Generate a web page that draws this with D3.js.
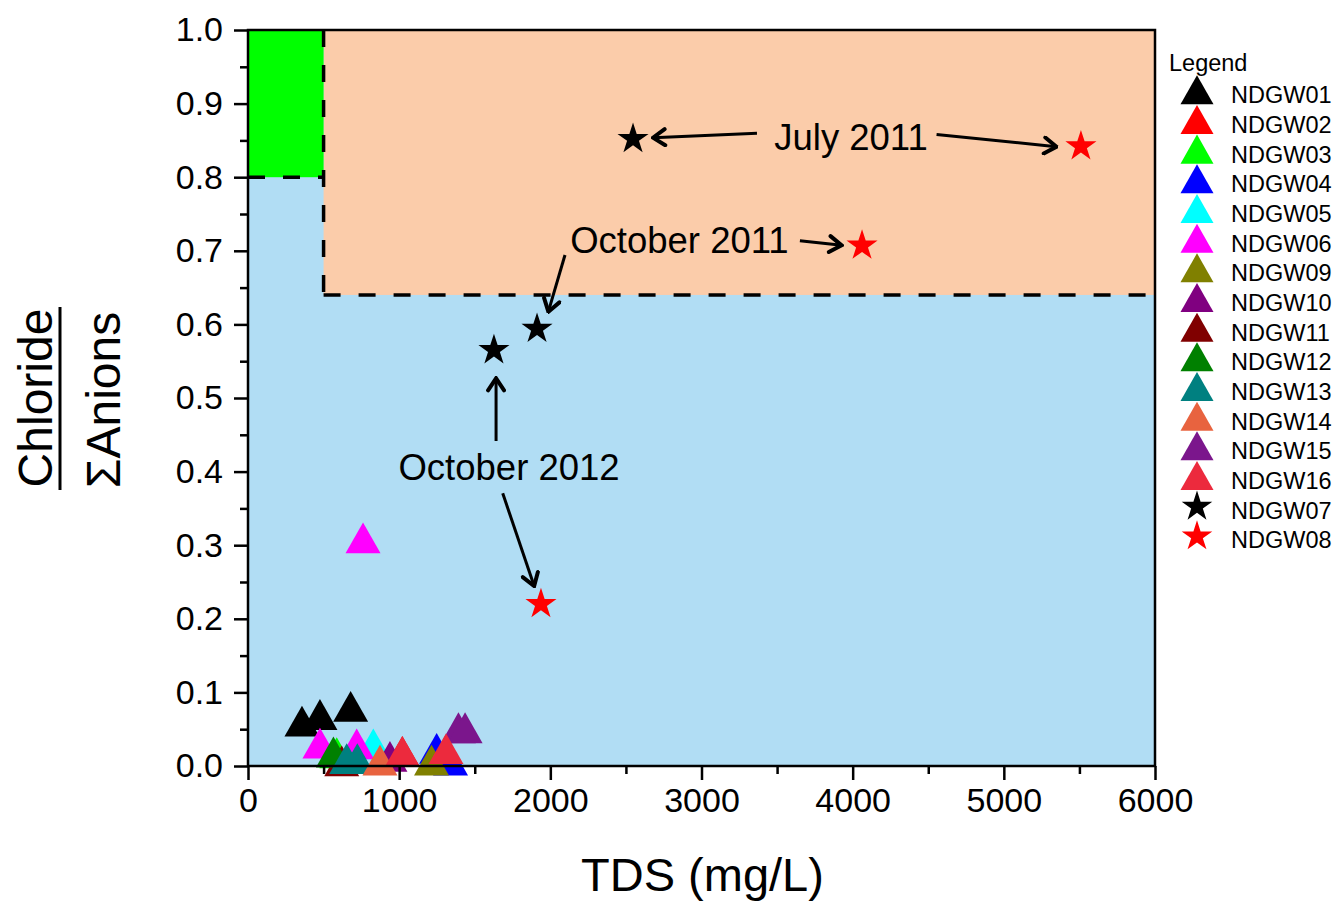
<!DOCTYPE html>
<html>
<head>
<meta charset="utf-8">
<script src="https://cdn.jsdelivr.net/npm/d3@7"></script>
<style>
  html, body { margin: 0; padding: 0; background: #fff; }
  svg { display: block; font-family: Arial, "Liberation Sans", sans-serif; }
</style>
</head>
<body>
<svg id="chart" width="1338" height="903"></svg>
<script>
// Well names in legend order
const wells = ["NDGW01","NDGW02","NDGW03","NDGW04","NDGW05","NDGW06","NDGW09","NDGW10",
               "NDGW11","NDGW12","NDGW13","NDGW14","NDGW15","NDGW16","NDGW07","NDGW08"];

// Samples per well: [TDS (mg/L), chloride / sum of anions]
const ndgw01 = [[357, 0.061], [476, 0.070], [679, 0.081]];
const ndgw02 = [[1021, 0.020]];
const ndgw03 = [[587, 0.018]];
const ndgw04 = [[1248, 0.024], [1340, 0.008]];
const ndgw05 = [[829, 0.030]];
const ndgw06 = [[476, 0.031], [719, 0.030], [761, 0.310]];
const ndgw09 = [[1214, 0.008]];
const ndgw10 = [[939, 0.013]];
const ndgw11 = [[620, 0.007]];
const ndgw12 = [[565, 0.019]];
const ndgw13 = [[653, 0.010], [723, 0.010]];
const ndgw14 = [[873, 0.008]];
const ndgw15 = [[1392, 0.052], [1436, 0.052]];
const ndgw16 = [[1021, 0.020], [1310, 0.0235]];
const ndgw07 = [[2547, 0.852], [1912, 0.594], [1627, 0.565]];
const ndgw08 = [[5510, 0.842], [4062, 0.707], [1938, 0.220]];

const wellSamples = [ndgw01, ndgw02, ndgw03, ndgw04, ndgw05, ndgw06, ndgw09, ndgw10,
                     ndgw11, ndgw12, ndgw13, ndgw14, ndgw15, ndgw16, ndgw07, ndgw08];
const wellColors = ["#000000","#FF0000","#00FF00","#0000FF","#00FFFF","#FF00FF","#808000","#800080",
                    "#800000","#008000","#008080","#E8633F","#7B168C","#EC2A3D","#000000","#FF0000"];
const wellShapes = ["tri","tri","tri","tri","tri","tri","tri","tri",
                    "tri","tri","tri","tri","tri","tri","star","star"];

// Axis ticks
const xTicks = [0, 1000, 2000, 3000, 4000, 5000, 6000];
const xMinor = [500, 1500, 2500, 3500, 4500, 5500];
const yTicks = [0, 0.1, 0.2, 0.3, 0.4, 0.5, 0.6, 0.7, 0.8, 0.9, 1.0];
const yMinor = [0.05, 0.15, 0.25, 0.35, 0.45, 0.55, 0.65, 0.75, 0.85, 0.95];

// Classification zones: [x0, x1, y0, y1]
const zoneBase = [0, 6000, 0, 1];
const zoneLowTds = [0, 500, 0.8, 1];
const zoneHighCl = [500, 6000, 0.64, 1];

// Sampling-date callouts: text position and arrows [fromX, fromY, toX, toY]
const calloutText = ["July 2011", "October 2011", "October 2012"];
const calloutAt = [[3989, 0.837], [2854, 0.697], [1727, 0.389]];
const calloutArrows = [
  [3367, 0.8596, 2679, 0.8537],
  [4555, 0.858, 5348, 0.8414],
  [3651, 0.7135, 3927, 0.7074],
  [2097, 0.6943, 1987, 0.6173],
  [1641, 0.4416, 1641, 0.5268],
  [1685, 0.3705, 1893, 0.2446]
];

const svg = d3.select("#chart");
const x = d3.scaleLinear().domain([0, 6000]).range([248, 1155]);
const y = d3.scaleLinear().domain([0, 1]).range([766, 30]);

// Triangle with its box centred on the point
const triangle = {
  draw(ctx, size) {
    const w = Math.sqrt(size), h = w * 0.88;
    ctx.moveTo(0, -h / 2);
    ctx.lineTo(w / 2, h / 2);
    ctx.lineTo(-w / 2, h / 2);
    ctx.closePath();
  }
};
const shapePath = (shape, big) => shape === "star"
  ? d3.symbol().type(d3.symbolStar).size(big ? 300 : 290)()
  : d3.symbol().type(triangle).size(big ? 35 * 35 : 33 * 33)();

// Zones
const zoneFill = (z, color) => svg.append("rect")
  .attr("x", x(z[0])).attr("y", y(z[3]))
  .attr("width", x(z[1]) - x(z[0])).attr("height", y(z[2]) - y(z[3]))
  .attr("fill", color);
zoneFill(zoneBase, "#B1DDF4");
zoneFill(zoneHighCl, "#FBCCAA");
zoneFill(zoneLowTds, "#00FF00");

// Dashed zone boundaries
const dashed = svg.append("g").attr("stroke", "#000").attr("stroke-width", 3.5)
  .attr("stroke-dasharray", "17 18").attr("fill", "none");
dashed.append("line").attr("x1", x(zoneLowTds[0])).attr("x2", x(zoneLowTds[1]))
  .attr("y1", y(zoneLowTds[2])).attr("y2", y(zoneLowTds[2]));
dashed.append("line").attr("x1", x(zoneHighCl[0])).attr("x2", x(zoneHighCl[0]))
  .attr("y1", y(zoneHighCl[3])).attr("y2", y(zoneHighCl[2]));
dashed.append("line").attr("x1", x(zoneHighCl[0])).attr("x2", x(zoneHighCl[1]))
  .attr("y1", y(zoneHighCl[2])).attr("y2", y(zoneHighCl[2]));

// Samples
wells.forEach((name, i) => {
  svg.append("g").attr("class", "well").selectAll("path")
    .data(wellSamples[i]).join("path")
    .attr("d", shapePath(wellShapes[i], true))
    .attr("transform", d => `translate(${x(d[0])},${y(d[1])})`)
    .attr("fill", wellColors[i]);
});

// Callouts
const defs = svg.append("defs");
defs.append("marker").attr("id", "head")
  .attr("viewBox", "-16 -10 18 20").attr("markerWidth", 18).attr("markerHeight", 20)
  .attr("refX", 0).attr("refY", 0).attr("orient", "auto").attr("markerUnits", "userSpaceOnUse")
  .append("path").attr("d", "M-12,-8 L0,0 L-12,8")
  .attr("fill", "none").attr("stroke", "#000").attr("stroke-width", 4)
  .attr("stroke-linejoin", "miter").attr("stroke-linecap", "round");
svg.append("g").selectAll("line").data(calloutArrows).join("line")
  .attr("x1", d => x(d[0])).attr("y1", d => y(d[1]))
  .attr("x2", d => x(d[2])).attr("y2", d => y(d[3]))
  .attr("stroke", "#000").attr("stroke-width", 3)
  .attr("marker-end", "url(#head)");
svg.append("g").selectAll("text").data(calloutText).join("text")
  .attr("x", (d, i) => x(calloutAt[i][0])).attr("y", (d, i) => y(calloutAt[i][1]))
  .attr("text-anchor", "middle").attr("font-size", 36.5).attr("fill", "#000")
  .text(d => d);

// Plot frame
svg.append("rect").attr("x", x(0)).attr("y", y(1))
  .attr("width", x(6000) - x(0)).attr("height", y(0) - y(1))
  .attr("fill", "none").attr("stroke", "#000").attr("stroke-width", 2.5);

// Axes
const styleAxis = g => {
  g.select(".domain").remove();
  g.selectAll(".tick line").attr("stroke", "#000").attr("stroke-width", 2.5);
  g.selectAll(".tick text").attr("font-size", 34).attr("fill", "#000")
    .attr("font-family", "Arial, 'Liberation Sans', sans-serif");
};
svg.append("g").attr("transform", `translate(0,${y(0)})`)
  .call(d3.axisBottom(x).tickValues(xTicks).tickSize(14).tickPadding(8).tickFormat(d3.format("d")))
  .call(styleAxis);
svg.append("g").attr("transform", `translate(0,${y(0)})`)
  .call(d3.axisBottom(x).tickValues(xMinor).tickSize(8).tickFormat(""))
  .call(styleAxis);
svg.append("g").attr("transform", `translate(${x(0)},0)`)
  .call(d3.axisLeft(y).tickValues(yTicks).tickSize(14).tickPadding(11).tickFormat(d3.format(".1f")))
  .call(styleAxis);
svg.append("g").attr("transform", `translate(${x(0)},0)`)
  .call(d3.axisLeft(y).tickValues(yMinor).tickSize(8).tickFormat(""))
  .call(styleAxis);

// Axis titles
svg.append("text").attr("x", (x(0) + x(6000)) / 2 + 1).attr("y", 891)
  .attr("text-anchor", "middle").attr("font-size", 47).text("TDS (mg/L)");
const yMid = 398;
svg.append("text").attr("transform", `translate(52,${yMid}) rotate(-90)`)
  .attr("text-anchor", "middle").attr("font-size", 48).text("Chloride");
svg.append("line").attr("x1", 60).attr("x2", 60).attr("y1", 307).attr("y2", 490)
  .attr("stroke", "#000").attr("stroke-width", 3);
svg.append("text").attr("transform", `translate(120,${yMid + 2}) rotate(-90)`)
  .attr("text-anchor", "middle").attr("font-size", 48).text("\u03A3Anions");

// Legend
const legend = svg.append("g");
legend.append("text").attr("x", 1169).attr("y", 71).attr("font-size", 23.5).text("Legend");
const rows = legend.selectAll("g.row").data(wells).join("g").attr("class", "row")
  .attr("transform", (d, i) => `translate(0,${103.3 + i * 29.67})`);
rows.append("path")
  .attr("d", (d, i) => shapePath(wellShapes[i], false))
  .attr("transform", (d, i) => `translate(1197,${wellShapes[i] === "star" ? -12 : -13.5})`)
  .attr("fill", (d, i) => wellColors[i]);
rows.append("text").attr("x", 1231).attr("y", 0).attr("font-size", 23.5).text(d => d);
</script>
</body>
</html>
